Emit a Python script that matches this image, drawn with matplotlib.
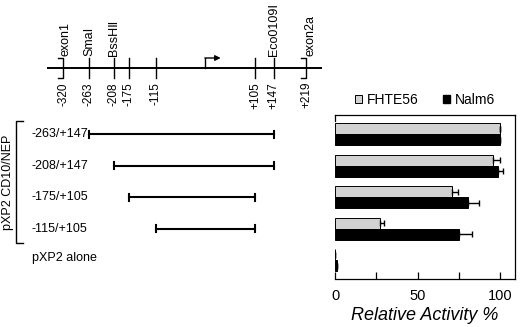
import matplotlib
matplotlib.use('Agg')
import matplotlib.pyplot as plt
from matplotlib.patches import Patch

plt.rcParams['font.family'] = ['Liberation Sans', 'DejaVu Sans']
NARROW = ['Liberation Sans Narrow', 'Liberation Sans', 'DejaVu Sans']

# promoter map (bp relative to transcription start)
site_pos = [-263, -208, -175, -115, 105, 147]
exon_pos = [-320, 219]
num_pos = [-320, -263, -208, -175, -115, 105, 147, 219]
num_labels = ['-320', '-263', '-208', '-175', '-115', '+105', '+147', '+219']
name_labels = ['exon1', 'Sma\u2160', 'BssH\u2161', 'Eco0109\u2160', 'exon2a']
name_pos = [-314, -263, -208, 147, 229]
tss = -5

# reporter constructs
constructs = ['-263/+147', '-208/+147', '-175/+105', '-115/+105', 'pXP2 alone']
starts = [-263, -208, -175, -115]
ends = [147, 147, 105, 105]

# relative activity %
fhte56 = [100, 95.5, 70.7, 27.4, 0]
fhte56_err = [0, 4.5, 4, 2, 0]
nalm6 = [100, 98.6, 80.3, 75.2, 0.8]
nalm6_err = [0, 3.5, 7, 7.5, 0]

fig = plt.figure(figsize=(5.2, 3.27), dpi=100)

# left part: map + constructs, y in pixels from top
mp = fig.add_axes([0, 0, 1, 1])
mp.set_xlim(-460.3, 692.7)
mp.set_ylim(327, 0)
mp.axis('off')

line_y = 68
mp.plot([-355, 254], [line_y, line_y], color='black', lw=1.4, solid_capstyle='butt')
for p in site_pos:
    mp.plot([p, p], [58, 78], color='black', lw=1)
for p in exon_pos:
    mp.plot([p - 11, p, p, p - 11], [58, 58, 78, 78], color='black', lw=1)
for p, t in zip(num_pos, num_labels):
    mp.text(p, 82, t, rotation=90, ha='center', va='top', fontsize=8.5)
for p, t in zip(name_pos, name_labels):
    mp.text(p, 56, t, rotation=90, ha='center', va='bottom', fontsize=9)

# transcription start arrow
mp.plot([tss, tss], [line_y, 58], color='black', lw=1)
mp.annotate('', xy=(tss + 34, 58), xytext=(tss - 1, 58),
            arrowprops=dict(arrowstyle='-|>', color='black', lw=1,
                            mutation_scale=8, shrinkA=0, shrinkB=0))

row_y = [134 + 31.6 * i for i in range(5)]
for i, (s, e) in enumerate(zip(starts, ends)):
    y = row_y[i]
    mp.plot([s, e], [y, y], color='black', lw=1.5)
    mp.plot([s, s], [y - 3.5, y + 3.5], color='black', lw=1.5)
    mp.plot([e, e], [y - 3.5, y + 3.5], color='black', lw=1.5)
for i, t in enumerate(constructs):
    mp.text(-390, row_y[i] - (2 if i == 4 else 0), t, ha='left', va='center',
            fontsize=9, family=NARROW)

# bracket for pXP2 CD10/NEP
bx = -425
mp.plot([bx + 15, bx, bx, bx + 15], [121, 121, 243, 243], color='black', lw=1)
mp.text(-442, 182, 'pXP2 CD10/NEP', rotation=90, ha='center', va='center',
        fontsize=9, family=NARROW)

# right part: bar chart
ax = fig.add_axes([335.3 / 520, 48 / 327, 179.7 / 520, 164 / 327])
ax.patch.set_alpha(0)
ax.set_xlim(0, 109.1)
ax.set_ylim(279, 115)
bh = 11
yg = [y - bh / 2 for y in row_y]
yb = [y + bh / 2 for y in row_y]
ax.barh(yg, fhte56, height=bh, color='#d2d2d2', edgecolor='black', lw=0.7,
        xerr=[[0] * 5, fhte56_err], error_kw=dict(ecolor='black', lw=1, capsize=2.5, capthick=1))
ax.barh(yb, nalm6, height=bh, color='black', edgecolor='black', lw=0.7,
        xerr=[[0] * 5, nalm6_err], error_kw=dict(ecolor='black', lw=1, capsize=2.5, capthick=1))

ax.spines['left'].set_visible(False)
for s in ['top', 'right', 'bottom']:
    ax.spines[s].set_linewidth(0.9)
ax.plot([0, 0], [115, 121], color='black', lw=0.9, clip_on=False)
ax.set_yticks([])
ax.set_xticks([0, 50, 100])
ax.set_xticks([25, 75], minor=True)
ax.tick_params(axis='x', which='both', direction='in', length=5, width=0.9,
               labelsize=10.5, pad=7)
ax.set_xlabel('Relative Activity %', fontsize=13, style='italic', labelpad=3)

handles = [Patch(facecolor='#d2d2d2', edgecolor='black', lw=0.7, label='FHTE56'),
           Patch(facecolor='black', edgecolor='black', label='Nalm6')]
ax.legend(handles=handles, loc='center', bbox_to_anchor=(0.5, 1.09), ncol=2,
          frameon=False, fontsize=10, handlelength=0.5, handleheight=0.5,
          handletextpad=0.35, columnspacing=1.8, borderaxespad=0, borderpad=0)

fig.savefig('out.png', dpi=100)
